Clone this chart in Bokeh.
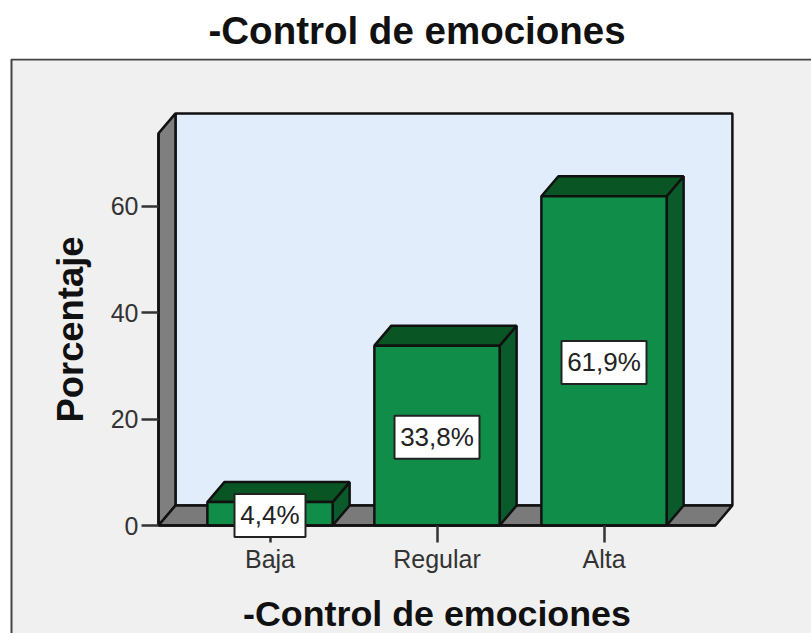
import math
from bokeh.plotting import figure
from bokeh.embed import file_html
from bokeh.resources import INLINE
from bokeh.models import BoxAnnotation, FixedTicker, Label
from bokeh.core.properties import value

# ---- data ----
categories = ["Baja", "Regular", "Alta"]
percentages = [4.4, 33.8, 61.9]
value_labels = ["4,4%", "33,8%", "61,9%"]
y_ticks = [0, 20, 40, 60]
title_text = "-Control de emociones"
x_title = "-Control de emociones"
y_title = "Porcentaje"

# ---- scale and 3-D geometry ----
PX_X = 167.0          # pixels per category
PX_Y = 5.32           # pixels per percent
DX = 17 / PX_X        # depth offset in data units
DY = 20 / PX_Y
HALF = 0.375
X0 = -0.6677          # left edge of the front of the chart
X1 = 2.667            # right edge of the front of the chart
YMAX = 73.7
FONT = "Liberation Sans"
EDGE = "#111111"
positions = list(range(len(categories)))

p = figure(width=811, height=633, output_backend="svg", toolbar_location=None,
           x_range=(-269.5 / PX_X, 541.5 / PX_X), y_range=(-108 / PX_Y, 467 / PX_Y),
           min_border_left=0, min_border_right=0, min_border_top=0, min_border_bottom=0,
           background_fill_color="white", border_fill_color="white", outline_line_color=None,
           title=title_text)
p.grid.visible = False

p.title.text_font = FONT
p.title.text_font_size = "38.5px"
p.title.text_font_style = "bold"
p.title.text_color = "#111111"
p.title.align = "left"
p.title.offset = 208
p.title.standoff = 13

# gray chart panel, running off the right and bottom of the picture
p.add_layout(BoxAnnotation(left=11, right=830, top=59, bottom=660,
                           left_units="canvas", right_units="canvas",
                           top_units="canvas", bottom_units="canvas",
                           fill_color="#f0f0f0", fill_alpha=1,
                           line_color="#444444", line_alpha=1, line_width=2, level="underlay"))

# walls and floor
p.patch([X0 + DX, X1 + DX, X1 + DX, X0 + DX], [DY, DY, YMAX + DY, YMAX + DY],
        fill_color="#e1edfa", line_color=EDGE, line_width=2.5)
p.patch([X0, X0 + DX, X0 + DX, X0], [0, DY, YMAX + DY, YMAX],
        fill_color="#7f7f7f", line_color=EDGE, line_width=2.5)
p.patch([X0, X1, X1 + DX, X0 + DX], [0, 0, DY, DY],
        fill_color="#7a7a7a", line_color=EDGE, line_width=2.5)

# bars
for x, v in zip(positions, percentages):
    l, r = x - HALF, x + HALF
    p.patch([r, r + DX, r + DX, r], [0, DY, v + DY, v],
            fill_color="#0a5a2b", line_color=EDGE, line_width=2.5)
    p.patch([l, r, r + DX, l + DX], [v, v, v + DY, v + DY],
            fill_color="#0a5524", line_color=EDGE, line_width=2.5)
    p.patch([l, r, r, l], [0, 0, v, v],
            fill_color="#108e49", line_color=EDGE, line_width=2.5)

# value labels, above the axes
centers = [v / 2 - 0.3 for v in percentages]
box_w = [71, 85, 85]
p.rect(positions, centers, width=box_w, height=43, width_units="screen", height_units="screen",
       fill_color="white", line_color="#222222", line_width=2, level="overlay")
p.text(positions, centers, text=value_labels, text_align="center", text_baseline="middle",
       text_font=value(FONT), text_font_size="26px", text_color="#222222", level="overlay")

# axes
for ax in (p.xaxis[0], p.yaxis[0]):
    ax.major_tick_out = 17
    ax.major_tick_in = 0
    ax.minor_tick_line_color = None
    ax.major_tick_line_color = "#333333"
    ax.major_tick_line_width = 2.5
    ax.axis_line_color = EDGE
    ax.axis_line_width = 2.5
    ax.major_label_text_font = FONT
    ax.major_label_text_font_size = "25px"
    ax.major_label_text_color = "#333333"

p.yaxis[0].ticker = FixedTicker(ticks=y_ticks)
p.yaxis[0].bounds = (0, YMAX)
p.yaxis[0].fixed_location = X0
p.yaxis[0].major_label_standoff = 3

p.xaxis[0].ticker = FixedTicker(ticks=positions)
p.xaxis[0].major_label_overrides = {i: c for i, c in zip(positions, categories)}
p.xaxis[0].bounds = (X0, X1)
p.xaxis[0].fixed_location = 0
p.xaxis[0].major_label_standoff = 2

# axis titles
p.add_layout(Label(x=436.5, y=613, x_units="canvas", y_units="canvas", text=x_title,
                   text_align="center", text_baseline="middle", text_font=FONT,
                   text_font_size="35.8px", text_font_style="bold", text_color="#111111"))
p.add_layout(Label(x=70, y=329, x_units="canvas", y_units="canvas", text=y_title, angle=math.pi / 2,
                   text_align="center", text_baseline="middle", text_font=FONT,
                   text_font_size="36.4px", text_font_style="bold", text_color="#111111"))

open("out.html", "w").write(file_html(p, INLINE))
